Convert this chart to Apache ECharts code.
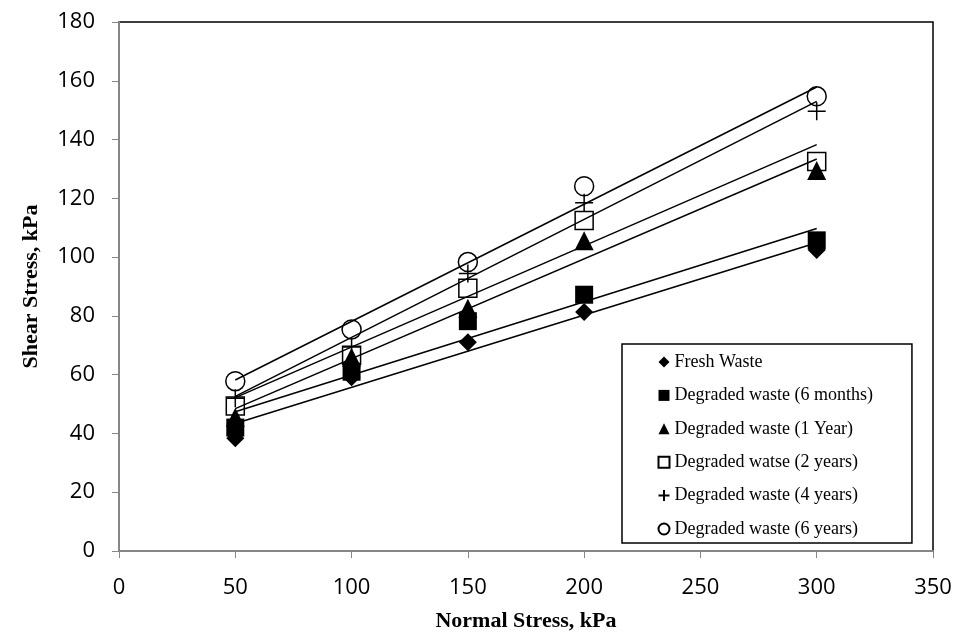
<!DOCTYPE html>
<html>
<head>
<meta charset="utf-8">
<script src="https://cdn.jsdelivr.net/npm/echarts@6/dist/echarts.min.js"></script>
<style>html,body{margin:0;padding:0;background:#fff}#c{width:956px;height:637px}</style>
</head>
<body>
<div id="c"></div>
<script>
const normalStress = [50, 100, 150, 200, 300];
const freshWaste = [38.4, 59.1, 71.0, 81.3, 102.4];
const degraded6Months = [42.0, 61.0, 78.2, 87.2, 105.7];
const degraded1Year = [45.5, 65.9, 82.6, 105.6, 129.5];
const degraded2Years = [49.3, 66.6, 89.4, 112.5, 132.5];
const degraded4Years = [52.0, 69.4, 94.4, 118.5, 149.6];
const degraded6Years = [57.8, 75.4, 98.3, 124.1, 154.7];
const seriesNames = ['Fresh Waste', 'Degraded waste (6 months)', 'Degraded waste (1 Year)', 'Degraded watse (2 years)', 'Degraded waste (4 years)', 'Degraded waste (6 years)'];
const xTicks = [0, 50, 100, 150, 200, 250, 300, 350];
const yTicks = [0, 20, 40, 60, 80, 100, 120, 140, 160, 180];

const allSeries = [freshWaste, degraded6Months, degraded1Year, degraded2Years, degraded4Years, degraded6Years];
const plusPath = 'path://M-1,0 L1,0 M0,-1 L0,1';
const symbolDefs = [
  {symbol: 'diamond', size: 18, filled: true},
  {symbol: 'rect', size: 18, filled: true},
  {symbol: 'triangle', size: 19, filled: true},
  {symbol: 'rect', size: 18, filled: false},
  {symbol: plusPath, size: 18, filled: false},
  {symbol: 'circle', size: 19, filled: false}
];

function fit(xs, ys) {
  const n = xs.length;
  const mx = xs.reduce((a, b) => a + b, 0) / n;
  const my = ys.reduce((a, b) => a + b, 0) / n;
  let sxy = 0, sxx = 0;
  for (let i = 0; i < n; i++) { sxy += (xs[i] - mx) * (ys[i] - my); sxx += (xs[i] - mx) * (xs[i] - mx); }
  const b = sxy / sxx;
  return {a: my - b * mx, b: b};
}

const series = [];
allSeries.forEach((vals, i) => {
  const f = fit(normalStress, vals);
  const x0 = normalStress[0], x1 = normalStress[normalStress.length - 1];
  series.push({
    type: 'line', name: 'trend' + i, silent: true, symbol: 'none', z: 3,
    data: [[x0, f.a + f.b * x0], [x1, f.a + f.b * x1]],
    lineStyle: {color: '#000', width: 1.5}
  });
});
allSeries.forEach((vals, i) => {
  const d = symbolDefs[i];
  series.push({
    type: 'scatter', name: seriesNames[i], z: 4,
    symbol: d.symbol, symbolSize: d.size,
    data: normalStress.map((x, k) => [x, vals[k]]),
    itemStyle: d.filled ? {color: '#000', borderWidth: 0, opacity: 1} : {color: 'none', borderColor: '#000', borderWidth: 1.5, opacity: 1}
  });
});

const chart = echarts.init(document.getElementById('c'), null, {renderer: 'canvas'});
chart.setOption({
  animation: false,
  backgroundColor: '#fff',
  grid: {left: 119, right: 23, top: 22, bottom: 85, show: true, borderColor: '#000', borderWidth: 1.5, backgroundColor: 'transparent'},
  xAxis: {
    type: 'value', min: xTicks[0], max: xTicks[xTicks.length - 1], interval: 50,
    name: 'Normal Stress, kPa', nameLocation: 'middle', nameGap: 59,
    nameTextStyle: {fontFamily: 'Liberation Serif', fontWeight: 'bold', fontSize: 22, color: '#000'},
    axisLine: {lineStyle: {color: '#868686', width: 2}},
    axisTick: {show: true, length: 7, lineStyle: {color: '#868686', width: 1}},
    axisLabel: {fontFamily: 'Open Sans', fontSize: 22, color: '#000', margin: 26},
    splitLine: {show: false}
  },
  yAxis: {
    type: 'value', min: yTicks[0], max: yTicks[yTicks.length - 1], interval: 20,
    name: 'Shear Stress, kPa', nameLocation: 'middle', nameGap: 77,
    nameTextStyle: {fontFamily: 'Liberation Serif', fontWeight: 'bold', fontSize: 22, color: '#000'},
    axisLine: {lineStyle: {color: '#868686', width: 2}},
    axisTick: {show: true, length: 7, lineStyle: {color: '#868686', width: 1}},
    axisLabel: {fontFamily: 'Open Sans', fontSize: 22, color: '#000', margin: 24},
    splitLine: {show: false}
  },
  legend: {
    data: seriesNames,
    orient: 'vertical', left: 622, top: 344,
    backgroundColor: '#fff', borderColor: '#000', borderWidth: 1.5, borderRadius: 0,
    padding: [9, 39, 5, 34],
    itemWidth: 11, itemHeight: 11, itemGap: 15.4,
    itemStyle: {opacity: 1},
    textStyle: {fontFamily: 'Liberation Serif', fontSize: 18, color: '#000', lineHeight: 18}
  },
  series: series
});
</script>
</body>
</html>
